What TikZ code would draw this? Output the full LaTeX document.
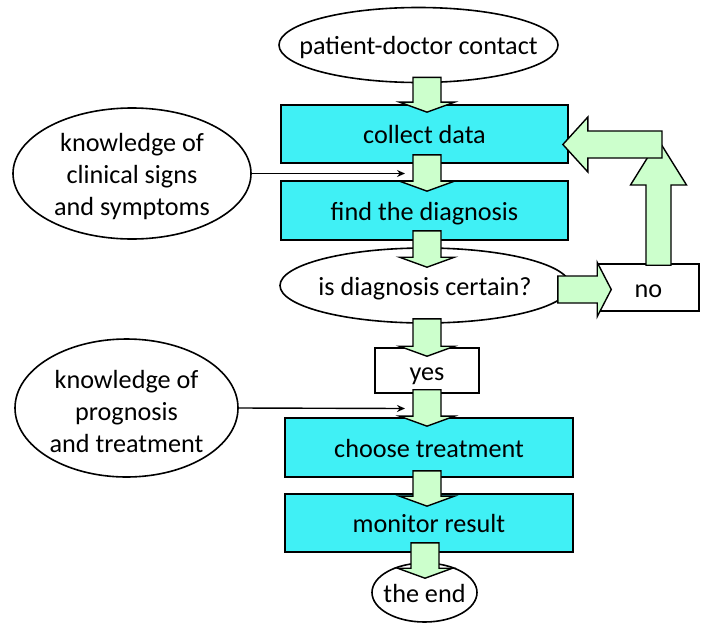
\documentclass[tikz,border=0pt]{standalone}
\usepackage{fontspec}
\setmainfont{Carlito}
\usetikzlibrary{shapes.geometric,calc,arrows.meta}
\definecolor{boxcyan}{RGB}{64,240,245}
\definecolor{arrgreen}{RGB}{204,255,204}
\newcommand\dnarrow[2]{%
  \draw[barrow] ($(#1)+(-14,0)$) -- ($(#1)+(14,0)$) -- ($(#2)+(14,-10)$) -- ($(#2)+(27.5,-10)$) -- (#2) -- ($(#2)+(-27.5,-10)$) -- ($(#2)+(-14,-10)$) -- cycle;}
\begin{document}
\begin{tikzpicture}[x=1pt,y=-1pt,
  font=\fontsize{26.2}{32}\selectfont,
  txt/.style={text height=24pt, text depth=5pt},
  proc/.style={draw=black, line width=1.7pt, fill=boxcyan, rectangle, inner sep=0pt, txt},
  plainbox/.style={draw=black, line width=1.5pt, fill=white, rectangle, inner sep=0pt, txt},
  oval/.style={draw=black, line width=1.6pt, fill=white, ellipse, inner sep=0pt},
  barrow/.style={draw=black, line width=1.4pt, fill=arrgreen, line join=miter},
  thinarrow/.style={draw=black, line width=1.4pt, -{Stealth[length=8pt,width=7pt]}}]
\useasboundingbox (0,0) rectangle (703,624);
% ovals
\node[oval, minimum width=279pt, minimum height=75pt, label={[txt]center:patient-doctor contact}] (pdc) at (418.5,45) {};
\node[oval, minimum width=290pt, minimum height=75pt, label={[txt]center:is diagnosis certain?}] (cert) at (425,285.5) {};
\node[oval, minimum width=105pt, minimum height=59pt, label={[txt]center:the end}] (theend) at (424.5,592.5) {};
\node[oval, minimum width=238pt, minimum height=131pt, label={[align=center,yshift=-3pt]center:knowledge of\\clinical signs\\and symptoms}] (k1) at (132,173.5) {};
\node[oval, minimum width=223pt, minimum height=138pt, label={[align=center,yshift=-3pt]center:knowledge of\\prognosis\\and treatment}] (k2) at (126.5,408) {};
% boxes
\node[proc, minimum width=287pt, minimum height=58pt] (collect) at (424.5,134) {collect data};
\node[proc, minimum width=287pt, minimum height=59pt] (find) at (424.5,210.5) {find the diagnosis};
\node[proc, minimum width=288pt, minimum height=59pt] (choose) at (429,447.5) {choose treatment};
\node[proc, minimum width=288pt, minimum height=58pt] (monitor) at (429,523) {monitor result};
\node[plainbox, minimum width=104pt, minimum height=45pt] (yes) at (427,370.5) {yes};
\node[plainbox, minimum width=101pt, minimum height=47pt] (no) at (648.5,287.5) {no};
% thin arrows
\coordinate (k1e) at (405,173.5);
\coordinate (k2e) at (405,408.5);
\draw[thinarrow] (k1.east) -- (k1e);
\draw[thinarrow] (k2.east) -- (k2e);
% block arrow helpers
\coordinate (ax) at (427,0);
\coordinate (ax2) at (425,0);
\coordinate (s1) at ($(pdc.south -| ax)+(0,-6)$);
\coordinate (t1) at ($(collect.north -| ax)+(0,8)$);
\coordinate (s2) at ($(collect.south -| ax)+(0,-9)$);
\coordinate (t2) at ($(find.north -| ax)+(0,11)$);
\coordinate (s3) at ($(find.south -| ax)+(0,-10)$);
\coordinate (t3) at ($(cert.north -| ax)+(0,20)$);
\coordinate (s4) at ($(cert.south -| ax)+(0,-5)$);
\coordinate (t4) at ($(yes.north -| ax)+(0,9)$);
\coordinate (s5) at ($(yes.south -| ax)+(0,-4)$);
\coordinate (t5) at ($(choose.north -| ax)+(0,9)$);
\coordinate (s6) at ($(choose.south -| ax)+(0,-7)$);
\coordinate (t6) at ($(monitor.north -| ax)+(0,13)$);
\coordinate (s7) at ($(monitor.south -| ax2)+(0,-10)$);
\coordinate (t7) at ($(theend.north -| ax2)+(0,16)$);
\dnarrow{s1}{t1}
\dnarrow{s2}{t2}
\dnarrow{s3}{t3}
\dnarrow{s4}{t4}
\dnarrow{s5}{t5}
\dnarrow{s6}{t6}
\dnarrow{s7}{t7}
% right arrow: cert -> no
\coordinate (rs) at ($(cert.east)+(-13,4)$);
\coordinate (rt) at ($(no.west)+(14,2)$);
\draw[barrow] ($(rs)+(0,-13.5)$) -- ($(rt)+(-14,-13.5)$) -- ($(rt)+(-14,-27)$) -- (rt) -- ($(rt)+(-14,27)$) -- ($(rt)+(-14,13.5)$) -- ($(rs)+(0,13.5)$) -- cycle;
% up arrow from no
\coordinate (us) at ($(no.north)+(10,2)$);
\coordinate (ut) at (658.5,140);
\draw[barrow] ($(us)+(-12.5,0)$) -- ($(ut)+(-12.5,45)$) -- ($(ut)+(-28,45)$) -- (ut) -- ($(ut)+(28,45)$) -- ($(ut)+(12.5,45)$) -- ($(us)+(12.5,0)$) -- cycle;
% left arrow into collect data
\coordinate (ls) at (662,144.5);
\coordinate (lt) at ($(collect.east)+(-6,10.5)$);
\draw[barrow] ($(ls)+(0,-13.5)$) -- ($(lt)+(25,-13.5)$) -- ($(lt)+(25,-27.5)$) -- (lt) -- ($(lt)+(25,27.5)$) -- ($(lt)+(25,13.5)$) -- ($(ls)+(0,13.5)$) -- cycle;
\end{tikzpicture}
\end{document}
